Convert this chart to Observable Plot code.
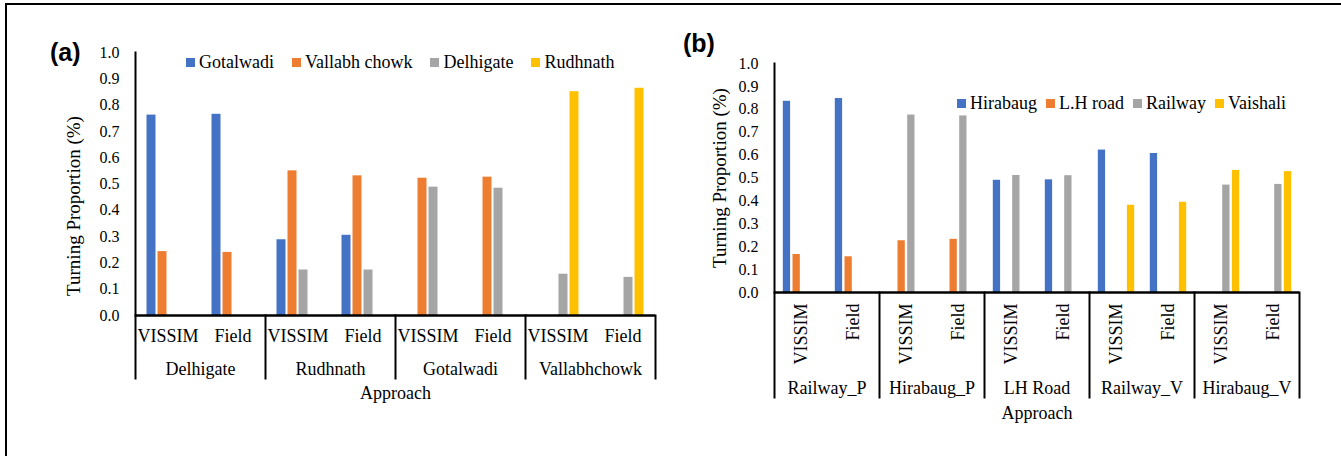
<!DOCTYPE html>
<html><head><meta charset="utf-8">
<script src="https://cdn.jsdelivr.net/npm/d3@7"></script>
<script src="https://cdn.jsdelivr.net/npm/@observablehq/plot@0.6"></script>
<style>
html,body{margin:0;padding:0;background:#fff;}
#fig{position:relative;width:1341px;height:456px;overflow:hidden;background:#fff;}
#border{position:absolute;left:5px;top:3px;width:2000px;height:1000px;border-top:2px solid #000;border-left:2px solid #000;}
.panel{position:absolute;top:0;}
.panel svg text{font-family:"Liberation Serif","Times New Roman",serif;}
.tag{position:absolute;font-family:"Liberation Sans",Arial,sans-serif;font-weight:bold;font-size:25px;line-height:25px;color:#000;}
.leg{position:absolute;line-height:20px;}
.leg, .leg *{font-family:"Liberation Serif","Times New Roman",serif !important;font-size:18px !important;color:#000 !important;}
.leg div{min-height:0 !important;margin:0 !important;}
.lgA-swatch{margin-right:18px !important;}
.lgB-swatch{margin-right:9px !important;}
.lgA-swatch > svg,.lgB-swatch > svg{margin-right:4px !important;}
</style></head>
<body><div id="fig"><div id="border"></div></div>
<script>
// ---------- shared ----------
const seriesColors = ["#4472C4", "#ED7D31", "#A5A5A5", "#FFC000"];
const typeLabels = ["VISSIM", "Field"];
const yTicks = [0.0, 0.1, 0.2, 0.3, 0.4, 0.5, 0.6, 0.7, 0.8, 0.9, 1.0];
const yLabel = "Turning Proportion (%)";
const xLabel = "Approach";

// ---------- panel (a) ----------
const approachesA = ["Delhigate", "Rudhnath", "Gotalwadi", "Vallabhchowk"];
const seriesA = ["Gotalwadi", "Vallabh chowk", "Delhigate", "Rudhnath"];
// order: Delhigate VISSIM, Delhigate Field, Rudhnath VISSIM, Rudhnath Field, Gotalwadi VISSIM, Gotalwadi Field, Vallabhchowk VISSIM, Vallabhchowk Field
const aGotalwadi    = [0.762, 0.765, 0.288, 0.305, null, null, null, null];
const aVallabhChowk = [0.243, 0.240, 0.550, 0.531, 0.522, 0.526, null, null];
const aDelhigate    = [null, null, 0.173, 0.173, 0.488, 0.484, 0.157, 0.145];
const aRudhnath     = [null, null, null, null, null, null, 0.851, 0.864];

// ---------- panel (b) ----------
const approachesB = ["Railway_P", "Hirabaug_P", "LH Road", "Railway_V", "Hirabaug_V"];
const seriesB = ["Hirabaug", "L.H road", "Railway", "Vaishali"];
const bHirabaug = [0.835, 0.847, null, null, 0.490, 0.492, 0.622, 0.607, null, null];
const bLHRoad   = [0.166, 0.156, 0.226, 0.232, null, null, null, null, null, null];
const bRailway  = [null, null, 0.775, 0.771, 0.511, 0.510, null, null, 0.469, 0.472];
const bVaishali = [null, null, null, null, null, null, 0.381, 0.394, 0.533, 0.528];

const font = '"Liberation Serif", "Times New Roman", serif';

function makePanel(cfg) {
  const rows = [];
  cfg.series.forEach((s, k) => cfg.values[k].forEach((v, idx) => {
    if (v != null) rows.push({series: s, approach: cfg.approaches[Math.floor(idx / 2)], type: typeLabels[idx % 2], value: v});
  }));
  const frameW = cfg.width - cfg.marginLeft - cfg.marginRight;
  const frameH = cfg.height - cfg.marginTop - cfg.marginBottom;
  const band = frameW / cfg.approaches.length / typeLabels.length;
  const inset = (band - cfg.barW) / 2;
  const n = cfg.series.length;
  const bars = cfg.series.map((s, k) => Plot.barY(rows.filter(d => d.series === s), {
    fx: "approach", x: "type", y: "value", fill: "series",
    dx: (k - (n - 1) / 2) * cfg.step, insetLeft: inset, insetRight: inset
  }));
  const line = {stroke: "#000", strokeWidth: 2};
  return Plot.plot({
    width: cfg.width, height: cfg.height,
    marginLeft: cfg.marginLeft, marginRight: cfg.marginRight,
    marginTop: cfg.marginTop, marginBottom: cfg.marginBottom,
    style: {fontFamily: font, fontSize: "16px", color: "#000", background: "transparent", overflow: "visible"},
    fx: {domain: cfg.approaches, padding: 0},
    x: {domain: typeLabels, padding: 0},
    y: {domain: [0, 1]},
    color: {domain: cfg.series, range: seriesColors},
    marks: [
      ...bars,
      Plot.ruleY([0], {stroke: "#000", strokeWidth: 2.5}),
      Plot.frame({anchor: "left", facetAnchor: "left", ...line}),
      Plot.frame({anchor: "left", ...line, insetTop: frameH, insetBottom: -cfg.sepLen}),
      Plot.frame({anchor: "right", facetAnchor: "right", ...line, insetTop: frameH, insetBottom: -cfg.sepLen}),
      Plot.axisY({ticks: yTicks, tickSize: 0, tickPadding: 16, tickFormat: d3.format(".1f"), fontSize: 16, fontFamily: font, label: null}),
      Plot.text([yLabel], {text: d => d, frameAnchor: "left", textAnchor: "middle", lineAnchor: "middle", rotate: -90, dx: cfg.yLabelDx, dy: cfg.yLabelDy, fontSize: 19, fontFamily: font, facetAnchor: "left"}),
      Plot.axisX({tickSize: 0, tickPadding: cfg.xPad, tickRotate: cfg.xRotate, fontSize: 18, fontFamily: font, label: null}),
      Plot.axisFx({anchor: "bottom", tickSize: 0, tickPadding: cfg.fxPad, fontSize: 18, fontFamily: font, label: xLabel, labelAnchor: "center", labelOffset: cfg.labelOffset})
    ]
  });
}

const fig = document.getElementById("fig");

function addPanel(cfg, left) {
  const svg = makePanel(cfg);
  const holder = document.createElement("div");
  holder.className = "panel";
  holder.style.left = left + "px";
  holder.appendChild(svg);
  fig.appendChild(holder);
}

addPanel({
  approaches: approachesA, series: seriesA,
  values: [aGotalwadi, aVallabhChowk, aDelhigate, aRudhnath],
  width: 665, height: 456, marginLeft: 135, marginRight: 10, marginTop: 52, marginBottom: 141,
  step: 11, barW: 9, sepLen: 63, xRotate: 0, xPad: 14, fxPad: 47, labelOffset: 83, yLabelDx: -62, yLabelDy: 22
}, 0);

addPanel({
  approaches: approachesB, series: seriesB,
  values: [bHirabaug, bLHRoad, bRailway, bVaishali],
  width: 676, height: 456, marginLeft: 108, marginRight: 41, marginTop: 63, marginBottom: 164,
  step: 9.7, barW: 8, sepLen: 105, xRotate: -90, xPad: 11, fxPad: 89, labelOffset: 126, yLabelDx: -55, yLabelDy: 0
}, 665);

function addLegend(series, cls, left, top) {
  const lg = Plot.legend({
    color: {type: "ordinal", domain: series, range: seriesColors},
    legend: "swatches", swatchSize: 9, className: cls,
    style: {fontFamily: font, fontSize: "18px", color: "#000"}
  });
  const holder = document.createElement("div");
  holder.className = "leg";
  holder.style.left = left + "px";
  holder.style.top = top + "px";
  holder.appendChild(lg);
  fig.appendChild(holder);
}
addLegend(seriesA, "lgA", 186, 52);
addLegend(seriesB, "lgB", 957, 93);

function addTag(t, left, top) {
  const d = document.createElement("div");
  d.className = "tag";
  d.textContent = t;
  d.style.left = left + "px";
  d.style.top = top + "px";
  fig.appendChild(d);
}
addTag("(a)", 50, 40);
addTag("(b)", 683, 31);
</script>
</body></html>
